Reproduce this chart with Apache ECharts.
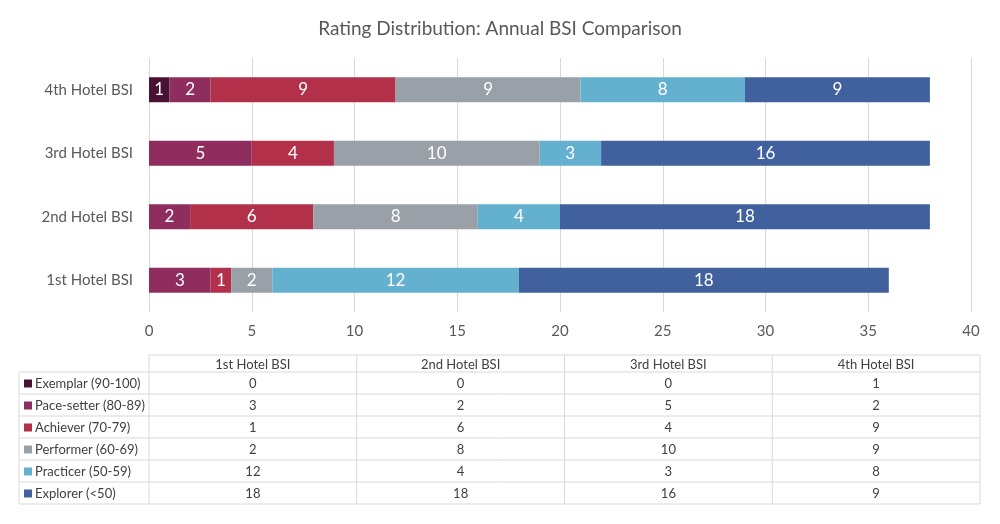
<!DOCTYPE html>
<html>
<head>
<meta charset="utf-8">
<title>Rating Distribution: Annual BSI Comparison</title>
<script src="https://cdn.jsdelivr.net/npm/echarts@6/dist/echarts.min.js"></script>
<style>
  html, body { margin: 0; padding: 0; background: #fff; }
  #chart { width: 1000px; height: 524px; }
</style>
</head>
<body>
<div id="chart"></div>
<script>
const hotels = ["1st Hotel BSI", "2nd Hotel BSI", "3rd Hotel BSI", "4th Hotel BSI"];
const ratings = ["Exemplar (90-100)", "Pace-setter (80-89)", "Achiever (70-79)", "Performer (60-69)", "Practicer (50-59)", "Explorer (<50)"];
const colors = ["#4a1232", "#8e2d5e", "#b3304a", "#9aa0a8", "#64b0cf", "#41619e"];

// one array per rating, values per hotel (1st..4th)
const exemplar = [0, 0, 0, 1];
const paceSetter = [3, 2, 5, 2];
const achiever = [1, 6, 4, 9];
const performer = [2, 8, 10, 9];
const practicer = [12, 4, 3, 8];
const explorer = [18, 18, 16, 9];
const values = [exemplar, paceSetter, achiever, performer, practicer, explorer];

const xTicks = { min: 0, max: 40, interval: 5 };

const font = "Lato, 'Open Sans', sans-serif";
const textColor = "#595959";

const chart = echarts.init(document.getElementById("chart"));

// data table under the chart
const tbl = { left: 19, keyRight: 149, right: 980, headTop: 355, headH: 17, rowH: 22 };
const colW = (tbl.right - tbl.keyRight) / hotels.length;
const lineColor = "#d9d9d9";
const graphics = [];

function hline(x1, x2, y) {
  graphics.push({ type: "line", shape: { x1, y1: y, x2, y2: y }, style: { stroke: lineColor, lineWidth: 1 }, silent: true });
}
function vline(x, y1, y2) {
  graphics.push({ type: "line", shape: { x1: x, y1, x2: x, y2 }, style: { stroke: lineColor, lineWidth: 1 }, silent: true });
}
function cellText(x, y, text, align) {
  graphics.push({
    type: "text", x, y, silent: true,
    style: { text, fill: "#404040", font: "13px " + font, align: align || "center", verticalAlign: "middle" }
  });
}

const bodyTop = tbl.headTop + tbl.headH;
const bodyBottom = bodyTop + tbl.rowH * ratings.length;

hline(tbl.keyRight, tbl.right, tbl.headTop);
for (let r = 0; r <= ratings.length; r++) {
  hline(tbl.left, tbl.right, bodyTop + r * tbl.rowH);
}
vline(tbl.left, bodyTop, bodyBottom);
for (let c = 0; c <= hotels.length; c++) {
  vline(tbl.keyRight + c * colW, tbl.headTop, bodyBottom);
}
hotels.forEach((h, c) => {
  cellText(tbl.keyRight + (c + 0.5) * colW, tbl.headTop + tbl.headH / 2 + 1, h);
});
ratings.forEach((name, r) => {
  const cy = bodyTop + (r + 0.5) * tbl.rowH + 1;
  graphics.push({
    type: "rect", silent: true,
    shape: { x: tbl.left + 5, y: cy - 4.5, width: 8, height: 8 },
    style: { fill: colors[r] }
  });
  cellText(tbl.left + 16, cy, name, "left");
  values[r].forEach((v, c) => {
    cellText(tbl.keyRight + (c + 0.5) * colW, cy, String(v));
  });
});

chart.setOption({
  animation: false,
  textStyle: { fontFamily: font },
  title: {
    text: "Rating Distribution: Annual BSI Comparison",
    left: "center",
    top: 14,
    textStyle: { fontFamily: font, fontSize: 19, fontWeight: "normal", color: textColor }
  },
  grid: { left: 149, right: 29, top: 58, bottom: 212 },
  xAxis: {
    type: "value",
    min: xTicks.min,
    max: xTicks.max,
    interval: xTicks.interval,
    axisLine: { show: false },
    axisTick: { show: false },
    splitLine: { lineStyle: { color: "#d9d9d9" } },
    axisLabel: { color: textColor, fontSize: 15, margin: 12 }
  },
  yAxis: {
    type: "category",
    data: hotels,
    axisLine: { show: false },
    axisTick: { show: false },
    axisLabel: { color: textColor, fontSize: 15, margin: 16 }
  },
  series: ratings.map((name, i) => ({
    name,
    type: "bar",
    stack: "total",
    barWidth: 25,
    data: values[i],
    itemStyle: { color: colors[i] },
    label: {
      show: true,
      position: "inside",
      color: "#fff",
      fontSize: 17,
      formatter: p => (p.value > 0 ? p.value : "")
    }
  })),
  graphic: graphics
});
</script>
</body>
</html>
